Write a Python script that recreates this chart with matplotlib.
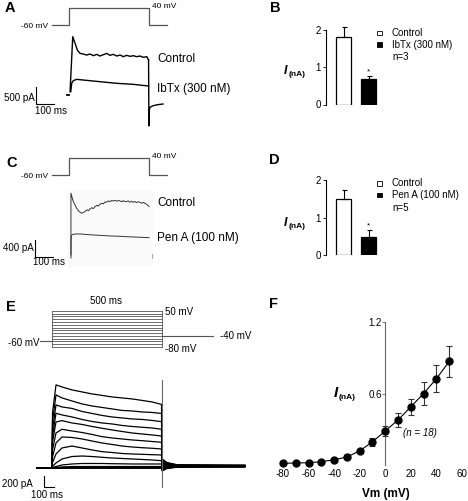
import matplotlib
matplotlib.use('Agg')
import matplotlib.pyplot as plt
from matplotlib.patches import Rectangle

plt.rcParams['font.family'] = ['Liberation Sans', 'DejaVu Sans']

W, H = 468, 501
fig = plt.figure(figsize=(W / 100, H / 100), dpi=100)

# ---------------- data ----------------
# Panel A/C voltage protocol (ms, mV)
prot_t = [-95, 0, 0, 448, 448, 550]
prot_v = [-60, -60, 40, 40, -60, -60]

# Panel A traces (ms, pA)
a_ctrl_t = [6, 21, 34, 47, 62, 80, 99, 118, 137, 156, 174, 193, 212, 230, 249, 268,
            287, 305, 324, 343, 361, 380, 399, 418, 437, 447]
a_ctrl_i = [127, 1745, 1548, 1352, 1254, 1235, 1205, 1235, 1186, 1225, 1176, 1215, 1254,
            1196, 1225, 1176, 1205, 1157, 1196, 1166, 1186, 1157, 1176, 1137, 1157, 1060]
a_ibtx_t = [10, 15, 24, 43, 80, 174, 268, 361, 447]
a_ibtx_i = [127, 373, 451, 490, 470, 421, 373, 343, 294]
a_tail_t = [447, 449, 452, 456, 470, 493, 528]
a_tail_i = [1060, -880, -380, -330, -290, -260, -235]

# Panel B (nA)
b_groups = ['Control', 'IbTx (300 nM)']
b_means = [1.79, 0.69]
b_err = [0.29, 0.08]

# Panel C traces (ms, pA)
c_ctrl_t = [11, 11, 24, 43, 57, 71, 80, 90, 100, 110, 118, 128, 137, 146, 156, 165, 174,
            184, 193, 202, 211, 221, 230, 239, 248, 258, 267, 277, 286, 295, 305, 314,
            323, 333, 342, 351, 360, 370, 379, 389, 398, 408, 417, 426, 436, 445, 450]
c_ctrl_i = [-70, 1450, 1253, 1097, 1020, 980, 1000, 1018, 1060, 1040, 1081, 1110, 1090,
            1135, 1165, 1150, 1191, 1215, 1200, 1245, 1238, 1270, 1250, 1280, 1269, 1285,
            1260, 1280, 1269, 1250, 1275, 1255, 1253, 1270, 1240, 1262, 1238, 1255, 1230,
            1250, 1238, 1215, 1235, 1215, 1190, 1160, 1135]
c_pen_t = [11, 12, 15, 24, 40, 62, 100, 136, 180, 230, 280, 323, 380, 450]
c_pen_i = [0, 430, 470, 486, 494, 494, 480, 470, 460, 447, 440, 430, 420, 407]

# Panel D (nA)
d_groups = ['Control', 'Pen A (100 nM)']
d_means = [1.49, 0.49]
d_err = [0.24, 0.18]

# Panel E protocol (mV) and current family (ms, pA)
e_volts = [50, 40, 30, 20, 10, 0, -10, -20, -30, -40, -50, -60, -70, -80]
e_t = [-150, 0, 5, 40, 100, 200, 300, 400, 500, 600, 700, 800, 900, 1000, 1095]
e_p50 = [0, 0, 1000, 1511, 1474, 1420, 1383, 1347, 1320, 1292, 1274, 1256, 1229, 1201, 1156]
e_p40 = [0, 0, 850, 1329, 1274, 1219, 1165, 1128, 1101, 1074, 1047, 1037, 1019, 1010, 992]
e_p30 = [0, 0, 700, 1147, 1110, 1083, 1028, 992, 956, 928, 910, 892, 883, 865, 843]
e_p20 = [0, 0, 580, 996, 965, 928, 883, 846, 819, 801, 774, 755, 741, 728, 704]
e_p10 = [0, 0, 470, 837, 861, 819, 792, 755, 723, 692, 664, 637, 619, 601, 582]
e_0 = [0, 0, 330, 637, 704, 673, 646, 610, 570, 546, 528, 510, 497, 482, 468]
e_m10 = [0, 0, 200, 455, 564, 555, 528, 491, 455, 428, 400, 382, 369, 359, 346]
e_m20 = [0, 0, 100, 255, 364, 400, 364, 328, 297, 282, 264, 255, 249, 242, 237]
e_m30 = [0, 0, 30, 91, 164, 209, 218, 209, 195, 182, 173, 164, 155, 146, 133]
e_m40 = [0, 0, 9, 27, 55, 73, 82, 82, 82, 78, 76, 73, 73, 73, 73]
e_m50 = [0, 0, 0, 9, 18, 27, 27, 27, 27, 27, 27, 27, 27, 27, 27]
e_m60 = [0, 0, 0, 5, 9, 9, 9, 9, 9, 9, 9, 9, 9, 9, 9]
e_m70 = [0, 0, 0, 0, 0, 0, 0, 0, 0, 0, 0, 0, 0, 0, 0]
e_m80 = [0, 0, 0, -5, -5, -5, -5, -5, -5, -5, -5, -5, -5, -5, -5]
e_tail_t = [1102, 1150, 1250, 1930]
e_tail_start = [164, 146, 127, 109, 91, 73, 55, 45, 27, 9, -9, -27, -45, -55]
e_tail_mid = [100, 91, 82, 73, 64, 55, 45, 41, 32, 23, 14, 5, -5, -9]
e_tail_settled = [60, 55, 50, 46, 42, 38, 35, 32, 29, 26, 23, 20, 17, 14]
e_tail_end = [45, 52, 40, 48, 35, 44, 30, 38, 26, 33, 22, 28, 18, 24]

# Panel F I-V (mV, nA)
f_v = [-80, -70, -60, -50, -40, -30, -20, -10, 0, 10, 20, 30, 40, 50]
f_i = [0.014, 0.017, 0.019, 0.028, 0.044, 0.067, 0.119, 0.194, 0.286, 0.378, 0.489,
       0.600, 0.725, 0.869]
f_err = [0.004, 0.004, 0.004, 0.005, 0.006, 0.008, 0.010, 0.032, 0.045, 0.060, 0.068,
         0.097, 0.110, 0.130]

# ---------------- layout helpers ----------------
ov = fig.add_axes([0, 0, 1, 1])
ov.set_xlim(0, W)
ov.set_ylim(H, 0)
ov.axis('off')


def px_axes(x0, y0, x1, y1):
    ax = fig.add_axes([x0 / W, 1 - y1 / H, (x1 - x0) / W, (y1 - y0) / H])
    ax.patch.set_alpha(0)
    return ax


def mapped_axes(x0, y0, x1, y1, ox, oy, sx, sy):
    ax = px_axes(x0, y0, x1, y1)
    ax.set_xlim((x0 - ox) / sx, (x1 - ox) / sx)
    ax.set_ylim((oy - y1) / sy, (oy - y0) / sy)
    ax.axis('off')
    return ax


def T(x, y, s, size, ha='left', va='center', **kw):
    ov.text(x, y, s, fontsize=size, ha=ha, va=va, **kw)


PROT_C = '#555555'
SX = 0.178  # px per ms, panels A and C

# ---------------- Panel A ----------------
axAp = mapped_axes(0, 0, 240, 30, 69, 15, SX, 0.167)
axAp.plot(prot_t, prot_v, color=PROT_C, lw=0.9)
axA = mapped_axes(0, 30, 240, 135, 69, 96, SX, 0.034)
axA.plot(a_ctrl_t, a_ctrl_i, color='k', lw=1.0)
axA.plot(a_ibtx_t, a_ibtx_i, color='k', lw=1.0)
axA.plot(a_tail_t, a_tail_i, color='k', lw=1.0)
axA.plot([-12, -2], [30, 30], color='k', lw=1.3)
axA.plot([-185, -185, -85], [265, -235, -235], color='k', lw=0.8)

T(9.5, 8, 'A', 10.5, ha='center', weight='bold')
T(35, 26, '-60 mV', 6, ha='center')
T(152, 6, '40 mV', 6)
T(157, 59, 'Control', 8.5)
T(157, 89, 'IbTx (300 nM)', 8.5)
T(19, 98, '500 pA', 7, ha='center')
T(51, 111, '100 ms', 7, ha='center')

# ---------------- Panel C ----------------
ov.add_patch(Rectangle((67, 190), 86, 77, fc='#fafafa', ec='none'))
axCp = mapped_axes(0, 150, 240, 185, 69, 165, SX, 0.167)
axCp.plot(prot_t, prot_v, color=PROT_C, lw=0.9)
axC = mapped_axes(0, 185, 240, 272, 69, 255, SX, 0.0426)
axC.plot(c_ctrl_t, c_ctrl_i, color='#333333', lw=0.7)
axC.plot(c_pen_t, c_pen_i, color='#333333', lw=0.7)
axC.plot([466, 466], [30, -60], color='#999999', lw=0.6)
axC.plot([-191, -191, -91], [353, -47, -47], color='k', lw=0.8)

T(12, 163, 'C', 10.5, ha='center', weight='bold')
T(35, 176, '-60 mV', 6, ha='center')
T(152, 157, '40 mV', 6)
T(157, 203, 'Control', 8.5)
T(157, 238, 'Pen A (100 nM)', 8.5)
T(18, 248, '400 pA', 7, ha='center')
T(49, 262, '100 ms', 7, ha='center')


# ---------------- Panels B and D ----------------
def bar_panel(y_top, y_bot, means, errs, groups, n_text, leg_y):
    ax = px_axes(326, y_top, 385, y_bot)
    ax.bar([1, 2], means, width=0.6, color=['white', 'black'], edgecolor='black',
           linewidth=0.9)
    cont = ax.errorbar([1, 2], means, yerr=[[0, 0], errs], fmt='none', ecolor='black',
                       elinewidth=0.8, capsize=1.8, capthick=0.8)
    for art in list(cont.lines[1]) + list(cont.lines[2]):
        art.set_clip_on(False)
    ax.set_xlim(0.292, 2.652)
    ax.set_ylim(0, 2)
    for s in ['top', 'right', 'bottom']:
        ax.spines[s].set_visible(False)
    ax.spines['left'].set_linewidth(0.8)
    ax.set_xticks([])
    ax.set_yticks([0, 1, 2])
    ax.set_yticklabels(['0', '1', '2'])
    ax.tick_params(axis='y', labelsize=7, length=2, width=0.6, pad=1.5)
    ax.text(2, means[1] + errs[1] + 0.1, '*', fontsize=6, ha='center', va='center')
    # legend
    for k, fc in enumerate(['white', 'black']):
        yy = leg_y + k * 11.6
        ov.add_patch(Rectangle((377.3, yy - 2.2), 4.5, 4.5, fc=fc, ec='black', lw=0.6))
        T(392, yy, groups[k], 7)
    T(392, leg_y + 2 * 11.6 + 1, n_text, 7)
    return ax


bar_panel(29.5, 104.5, b_means, b_err, b_groups, 'n=3', 33)
T(286, 71, 'I', 9, ha='center', weight='bold', style='italic')
T(297, 74, '(nA)', 6, ha='center', weight='bold')
T(275, 8, 'B', 10.5, ha='center', weight='bold')

bar_panel(180, 255, d_means, d_err, d_groups, 'n=5', 183.5)
T(286, 223, 'I', 9, ha='center', weight='bold', style='italic')
T(297, 226, '(nA)', 6, ha='center', weight='bold')
T(274, 160, 'D', 10.5, ha='center', weight='bold')

# ---------------- Panel E ----------------
axEp = mapped_axes(0, 295, 260, 355, 52, 324.8, 0.1, 0.277)
for v in e_volts:
    axEp.plot([0, 1100], [v, v], color=PROT_C, lw=0.6)
axEp.plot([0, 0], [min(e_volts), max(e_volts)], color=PROT_C, lw=0.6)
axEp.plot([1100, 1100], [min(e_volts), max(e_volts)], color=PROT_C, lw=0.6)
axEp.plot([-120, 0], [-60, -60], color=PROT_C, lw=0.8)
axEp.plot([1100, 1610], [-40, -40], color=PROT_C, lw=0.8)

axE = mapped_axes(0, 370, 260, 501, 52, 468, 0.1, 0.055)
e_traces = [e_p50, e_p40, e_p30, e_p20, e_p10, e_0, e_m10, e_m20, e_m30, e_m40,
            e_m50, e_m60, e_m70, e_m80]
for k, tr in enumerate(e_traces):
    tt = e_t + e_tail_t
    ii = tr + [e_tail_start[k], e_tail_mid[k], e_tail_settled[k], e_tail_end[k]]
    axE.plot(tt, ii, color='k', lw=0.9)
axE.plot([1100, 1100], [1602, -346], color='#666666', lw=0.8)
axE.plot([-80, -80, 20], [-145, -345, -345], color='k', lw=0.8)

T(11, 307, 'E', 10.5, ha='center', weight='bold')
T(106, 301, '500 ms', 7, ha='center')
T(165, 312, '50 mV', 7)
T(220, 336, '-40 mV', 7)
T(165, 349, '-80 mV', 7)
T(39, 343, '-60 mV', 7, ha='right')
T(17, 484, '200 pA', 7, ha='center')
T(47, 495, '100 ms', 7, ha='center')

# ---------------- Panel F ----------------
axF = px_axes(283, 322, 462, 465)
cont = axF.errorbar(f_v, f_i, yerr=f_err, fmt='o-', color='k', ms=5, lw=0.8,
                    ecolor='#333333', elinewidth=0.8, capsize=2.5, capthick=0.8,
                    clip_on=False, zorder=3)
for art in list(cont.lines[1]) + list(cont.lines[2]):
    art.set_clip_on(False)
axF.set_xlim(-80, 60)
axF.set_ylim(0, 1.2)
for s in ['top', 'right', 'bottom']:
    axF.spines[s].set_visible(False)
axF.spines['left'].set_position(('data', 0))
axF.spines['left'].set_color('#666666')
axF.spines['left'].set_linewidth(0.8)
axF.set_xticks(range(-80, 61, 20))
axF.set_xticklabels([str(v) for v in range(-80, 61, 20)])
axF.set_yticks([0.6, 1.2])
axF.set_yticklabels(['0.6', '1.2'])
axF.tick_params(axis='x', length=0, labelsize=7, pad=3)
axF.tick_params(axis='y', length=2, width=0.6, labelsize=7, pad=0.5, color='#666666')

T(273, 304, 'F', 10.5, ha='center', weight='bold')
T(336, 393, 'I', 11, ha='center', weight='bold', style='italic')
T(347, 397.5, '(nA)', 6, ha='center', weight='bold')
T(420, 433, '(n = 18)', 7, ha='center', style='italic')
T(386, 494, 'Vm (mV)', 8.5, ha='center', weight='bold')

fig.savefig('out.png', dpi=100)
